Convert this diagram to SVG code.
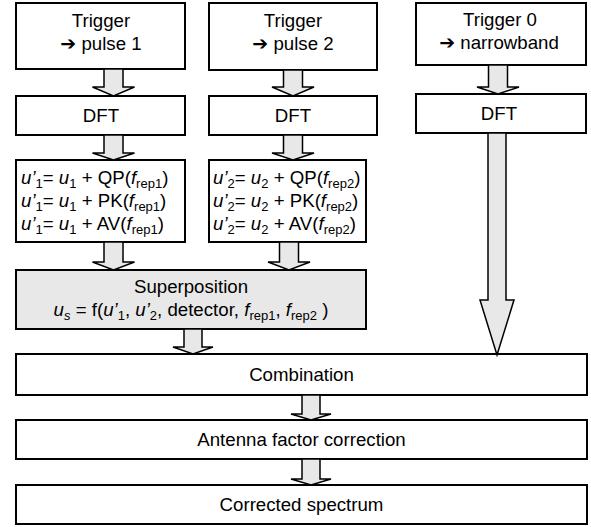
<svg xmlns="http://www.w3.org/2000/svg" width="591" height="527" viewBox="0 0 591 527">
<style>
.box{fill:#fff;stroke:#000;stroke-width:2}
.gray{fill:#e8e8e8}
.arr{fill:#e8e8e8;stroke:#000;stroke-width:1.5;stroke-linejoin:miter}
text{font-family:"Liberation Sans",Arial,"DejaVu Sans",sans-serif;font-size:18.67px;fill:#000}
.c{text-anchor:middle}
.i{font-style:italic}
.s{font-size:13px}
.ar{font-family:"DejaVu Sans",sans-serif;font-weight:bold;font-size:19px}
</style>
<rect width="591" height="527" fill="#fff"/>
<g id="trigger1"><rect class="box" x="16" y="3" width="169" height="66"/><text class="c" x="101" y="27">Trigger</text><text class="c" x="101" y="50"><tspan class="ar">➔</tspan> pulse 1</text></g>
<g id="trigger2"><rect class="box" x="209" y="3" width="168" height="67"/><text class="c" x="293" y="27">Trigger</text><text class="c" x="293" y="50"><tspan class="ar">➔</tspan> pulse 2</text></g>
<g id="trigger0"><rect class="box" x="416" y="3" width="170" height="62"/><text class="c" x="500" y="26">Trigger 0</text><text class="c" x="499" y="49"><tspan class="ar">➔</tspan> narrowband</text></g>
<g id="dft1"><rect class="box" x="16" y="96" width="169" height="39"/><text class="c" x="101" y="122">DFT</text></g>
<g id="dft2"><rect class="box" x="209" y="96" width="168" height="39"/><text class="c" x="293" y="122">DFT</text></g>
<g id="dft0"><rect class="box" x="416" y="94" width="170" height="39"/><text class="c" x="499" y="120">DFT</text></g>
<g id="formula1"><rect class="box" x="16" y="160" width="169" height="82"/>
<text x="21" y="184"><tspan class="i">u’</tspan><tspan class="s" dy="4">1</tspan><tspan dy="-4">= </tspan><tspan class="i">u</tspan><tspan class="s" dy="4">1</tspan><tspan dy="-4"> + QP(</tspan><tspan class="i">f</tspan><tspan class="s" dy="4">rep1</tspan><tspan dy="-4">)</tspan></text>
<text x="21" y="207"><tspan class="i">u’</tspan><tspan class="s" dy="4">1</tspan><tspan dy="-4">= </tspan><tspan class="i">u</tspan><tspan class="s" dy="4">1</tspan><tspan dy="-4"> + PK(</tspan><tspan class="i">f</tspan><tspan class="s" dy="4">rep1</tspan><tspan dy="-4">)</tspan></text>
<text x="21" y="230"><tspan class="i">u’</tspan><tspan class="s" dy="4">1</tspan><tspan dy="-4">= </tspan><tspan class="i">u</tspan><tspan class="s" dy="4">1</tspan><tspan dy="-4"> + AV(</tspan><tspan class="i">f</tspan><tspan class="s" dy="4">rep1</tspan><tspan dy="-4">)</tspan></text>
</g>
<g id="formula2"><rect class="box" x="209" y="160" width="157" height="82"/>
<text x="213" y="184"><tspan class="i">u’</tspan><tspan class="s" dy="4">2</tspan><tspan dy="-4">= </tspan><tspan class="i">u</tspan><tspan class="s" dy="4">2</tspan><tspan dy="-4"> + QP(</tspan><tspan class="i">f</tspan><tspan class="s" dy="4">rep2</tspan><tspan dy="-4">)</tspan></text>
<text x="213" y="207"><tspan class="i">u’</tspan><tspan class="s" dy="4">2</tspan><tspan dy="-4">= </tspan><tspan class="i">u</tspan><tspan class="s" dy="4">2</tspan><tspan dy="-4"> + PK(</tspan><tspan class="i">f</tspan><tspan class="s" dy="4">rep2</tspan><tspan dy="-4">)</tspan></text>
<text x="213" y="230"><tspan class="i">u’</tspan><tspan class="s" dy="4">2</tspan><tspan dy="-4">= </tspan><tspan class="i">u</tspan><tspan class="s" dy="4">2</tspan><tspan dy="-4"> + AV(</tspan><tspan class="i">f</tspan><tspan class="s" dy="4">rep2</tspan><tspan dy="-4">)</tspan></text>
</g>
<g id="superposition"><rect class="box gray" x="16" y="270" width="350" height="59"/><text class="c" x="191" y="293">Superposition</text>
<text class="c" x="191" y="316"><tspan class="i">u</tspan><tspan class="s i" dy="4">s</tspan><tspan dy="-4"> = f(</tspan><tspan class="i">u’</tspan><tspan class="s" dy="4">1</tspan><tspan dy="-4">, </tspan><tspan class="i">u’</tspan><tspan class="s" dy="4">2</tspan><tspan dy="-4">, detector, </tspan><tspan class="i">f</tspan><tspan class="s" dy="4">rep1</tspan><tspan dy="-4">, </tspan><tspan class="i">f</tspan><tspan class="s" dy="4">rep2</tspan><tspan dy="-4"> )</tspan></text></g>
<g id="combination"><rect class="box" x="16" y="354" width="571" height="41"/><text class="c" x="301.5" y="381">Combination</text></g>
<g id="antenna"><rect class="box" x="16" y="420" width="571" height="39"/><text class="c" x="301.5" y="446">Antenna factor correction</text></g>
<g id="corrected"><rect class="box" x="16" y="485" width="571" height="39"/><text class="c" x="301.5" y="511">Corrected spectrum</text></g>
<g id="connectors">
<polygon class="arr" points="104,69 123,69 123,87 134.5,87 113.5,96 92.5,87 104,87"/>
<polygon class="arr" points="283.5,70 302.5,70 302.5,87 314,87 293,96 272,87 283.5,87"/>
<polygon class="arr" points="488.5,65 507.5,65 507.5,87 519,87 498,94 477,87 488.5,87"/>
<polygon class="arr" points="104,135 123,135 123,153 134.5,153 113.5,160 92.5,153 104,153"/>
<polygon class="arr" points="283.5,135 302.5,135 302.5,153 314,153 293,160 272,153 283.5,153"/>
<polygon class="arr" points="104,242 123,242 123,262 134.5,262 113.5,270 92.5,262 104,262"/>
<polygon class="arr" points="279.5,242 298.5,242 298.5,262 310,262 289,270 268,262 279.5,262"/>
<polygon class="arr" points="488,133 506,133 506,300 514,300 497,355 480,300 488,300"/>
<polygon class="arr" points="184,329 202,329 202,347 213,347 193,354 173,347 184,347"/>
<polygon class="arr" points="302,395 320,395 320,414 331,414 311,420 291,414 302,414"/>
<polygon class="arr" points="302,459 320,459 320,479 331,479 311,485 291,479 302,479"/>
</g>
</svg>
